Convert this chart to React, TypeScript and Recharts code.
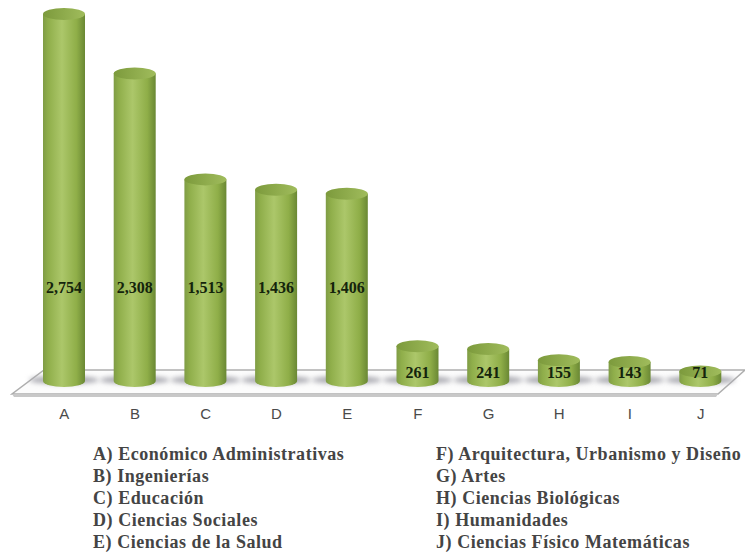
import { BarChart, Bar, XAxis, YAxis, LabelList, Customized } from 'recharts'

const categories = ['A', 'B', 'C', 'D', 'E', 'F', 'G', 'H', 'I', 'J']
const totals = [2754, 2308, 1513, 1436, 1406, 261, 241, 155, 143, 71]
const legendLeft = [
  'A) Económico Administrativas',
  'B) Ingenierías',
  'C) Educación',
  'D) Ciencias Sociales',
  'E) Ciencias de la Salud',
]
const legendRight = [
  'F) Arquitectura, Urbanismo y Diseño',
  'G) Artes',
  'H) Ciencias Biológicas',
  'I) Humanidades',
  'J) Ciencias Físico Matemáticas',
]

const rows = categories.map((name, i) => ({ name, total: totals[i] }))

const RY = 6

// 3D-looking floor the cylinders stand on
const Floor = () => (
  <g>
    <polygon points="44,370 745,370 718,394 12,394" fill="#fcfcfc" stroke="#aeaeae" strokeWidth={1.5} />
    <polygon points="12,394 718,394 716,397 14,397" fill="#c8c8c8" />
  </g>
)

const Cylinder = ({ x, y, width, height }: any) => {
  const cx = x + width / 2
  const base = y + height
  return (
    <g>
      <ellipse cx={cx} cy={base - 1} rx={width / 2 + 14} ry={4} fill="#a9a9b0" filter="url(#soft)" />
      <path
        d={`M${x},${y} L${x},${base} A${width / 2},${RY} 0 0 0 ${x + width},${base} L${x + width},${y} Z`}
        fill="url(#cylBody)"
      />
      <ellipse cx={cx} cy={y} rx={width / 2} ry={RY} fill="url(#cylTop)" />
    </g>
  )
}

const ValueLabel = ({ x, y, width, height, value }: any) => {
  const base = y + height
  const labelY = height > 100 ? base - 94 : base - 9
  return (
    <text
      x={x + width / 2}
      y={labelY}
      textAnchor="middle"
      dominantBaseline="central"
      fontFamily="'Liberation Serif', serif"
      fontWeight="bold"
      fontSize={16}
      fill="#14240c"
    >
      {value.toLocaleString('en-US')}
    </text>
  )
}

const legendStyle = {
  position: 'absolute' as const,
  top: 443,
  fontFamily: "'Liberation Serif', serif",
  fontWeight: 'bold' as const,
  fontSize: 18,
  letterSpacing: 0.55,
  lineHeight: '22px',
  color: '#444',
  whiteSpace: 'nowrap' as const,
}

export default function App() {
  return (
    <div style={{ position: 'absolute', left: 0, top: 0, width: 745, height: 552, background: '#fff', overflow: 'hidden' }}>
      <BarChart
        width={745}
        height={552}
        data={rows}
        margin={{ top: 14, right: 9, bottom: 111, left: 29 }}
      >
        <defs>
          <linearGradient id="cylBody" x1="0" y1="0" x2="1" y2="0">
            <stop offset="0%" stopColor="#7f9c45" />
            <stop offset="12%" stopColor="#8fae4a" />
            <stop offset="45%" stopColor="#acc76a" />
            <stop offset="80%" stopColor="#8fae48" />
            <stop offset="100%" stopColor="#6a8834" />
          </linearGradient>
          <linearGradient id="cylTop" x1="0" y1="0" x2="1" y2="0">
            <stop offset="0%" stopColor="#7c9a3c" />
            <stop offset="100%" stopColor="#a0bc5c" />
          </linearGradient>
          <filter id="soft" x="-30%" y="-100%" width="160%" height="300%">
            <feGaussianBlur stdDeviation="2.5" />
          </filter>
        </defs>
        <Customized component={Floor} />
        <XAxis
          dataKey="name"
          axisLine={false}
          tickLine={false}
          height={60}
          tickMargin={21}
          interval={0}
          tick={{ fontSize: 15, fill: '#4a4a4a', fontFamily: "'Liberation Sans', sans-serif" }}
        />
        <YAxis hide domain={[0, 2754]} />
        <Bar dataKey="total" barSize={42} shape={<Cylinder />} isAnimationActive={false}>
          <LabelList dataKey="total" content={<ValueLabel />} />
        </Bar>
      </BarChart>
      <div style={{ ...legendStyle, left: 93 }}>
        {legendLeft.map(t => <div key={t}>{t}</div>)}
      </div>
      <div style={{ ...legendStyle, left: 436 }}>
        {legendRight.map(t => <div key={t}>{t}</div>)}
      </div>
    </div>
  )
}
